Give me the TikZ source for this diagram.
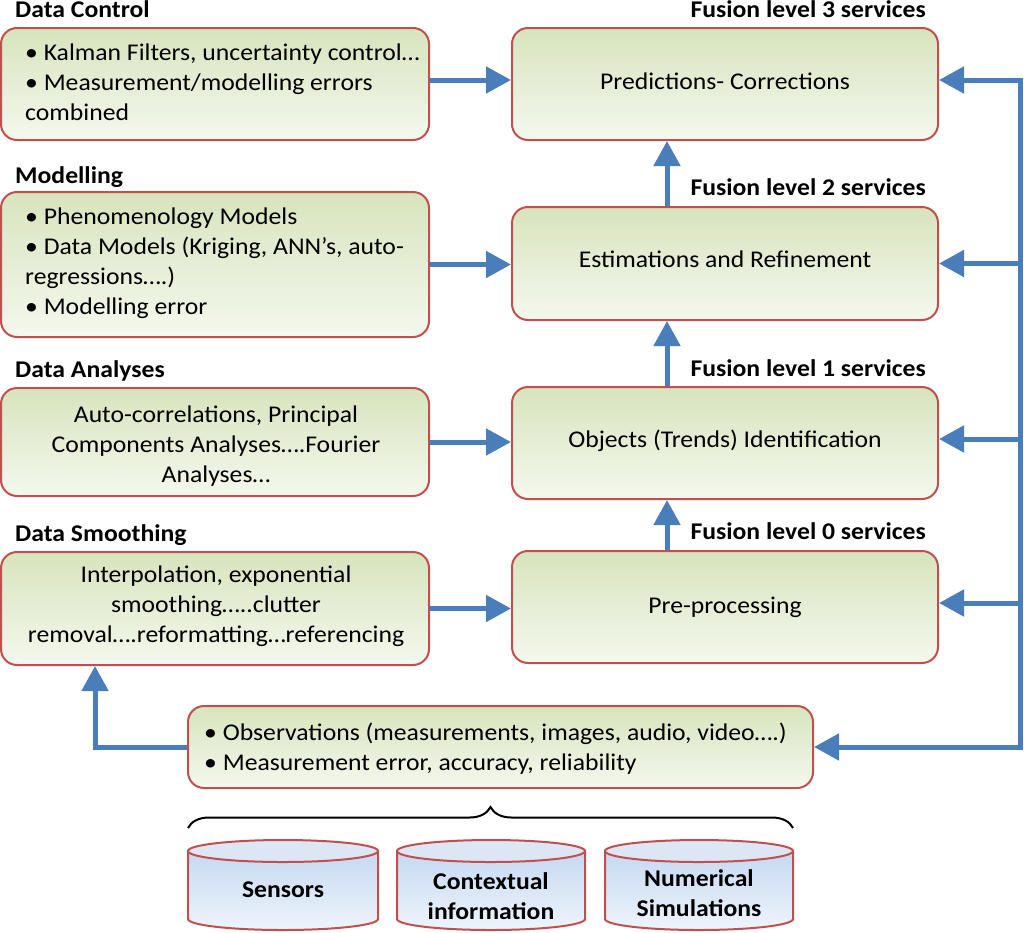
\documentclass[tikz,border=0pt]{standalone}
\usepackage{fontspec}
\setmainfont{Carlito}[FakeStretch=1.07]
\usetikzlibrary{arrows.meta,decorations.pathreplacing,calc}
\definecolor{boxtop}{HTML}{D7E4BD}
\definecolor{boxbot}{HTML}{F4F8EE}
\definecolor{boxred}{HTML}{C0504D}
\definecolor{arrblue}{HTML}{4A7EBB}
\definecolor{cyltop}{HTML}{C6D9F1}
\definecolor{cylbot}{HTML}{EEF4FB}
\definecolor{cyllid}{HTML}{DCE6F4}
\newcommand\dbcyl[2]{% center x, half width
  \fill[top color=cyltop, bottom color=cylbot] (#1-#2,851) -- (#1-#2,919) arc[start angle=180,end angle=360,x radius=#2 pt,y radius=11pt] -- (#1+#2,851) -- cycle;
  \draw[draw=boxred, line width=2pt] (#1-#2,851) -- (#1-#2,919) arc[start angle=180,end angle=360,x radius=#2 pt,y radius=11pt] -- (#1+#2,851);
  \draw[draw=boxred, line width=2pt, fill=cyllid] (#1,851) ellipse[x radius=#2 pt, y radius=11pt];
}
\begin{document}
\begin{tikzpicture}[x=1pt,y=-1pt,
  box/.style={draw=boxred, line width=2pt, rounded corners=16pt, top color=boxtop, bottom color=boxbot, minimum width=428pt, inner sep=0pt},
  rbox/.style={box, minimum width=426pt},
  body/.style={font=\fontsize{24}{30}\selectfont, inner sep=0pt},
  ttl/.style={font=\fontsize{24}{30}\selectfont\bfseries, inner sep=0pt},
  arr/.style={draw=arrblue, line width=5pt, -{Triangle[length=25pt,width=26pt]}}]
\useasboundingbox (0,0) rectangle (1024,932);

% left boxes
\node[box, minimum height=112pt] (DC) at (215,84) {};
\node[box, minimum height=145pt] (M) at (215,264.5) {};
\node[box, minimum height=108pt] (DA) at (215,442) {};
\node[box, minimum height=113pt] (DS) at (215,608.5) {};
% right boxes
\node[rbox, minimum height=112pt] (P) at (725,84) {};
\node[rbox, minimum height=113pt] (E) at (725,263.5) {};
\node[rbox, minimum height=112pt] (O) at (725,443) {};
\node[rbox, minimum height=112pt] (Pre) at (725,607) {};
% observations
\node[box, minimum width=625pt, minimum height=82pt] (Obs) at (500.5,747) {};

% titles
\node[ttl, anchor=base west] (tDC) at (15,17) {Data Control};
\node[ttl, anchor=base west] (tM) at (15,183) {Modelling};
\node[ttl, anchor=base west] (tDA) at (15,377) {Data Analyses};
\node[ttl, anchor=base west] (tDS) at (15,541) {Data Smoothing};
\node[ttl, anchor=base east] (f3) at (926,17) {Fusion level 3 services};
\node[ttl, anchor=base east] (f2) at (926,195) {Fusion level 2 services};
\node[ttl, anchor=base east] (f1) at (926,376) {Fusion level 1 services};
\node[ttl, anchor=base east] (f0) at (926,539) {Fusion level 0 services};

% box texts
\node[body, align=left, anchor=west] (DCt) at (25,82.5) {• Kalman Filters, uncertainty control…\\• Measurement/modelling errors\\combined};
\node[body, align=left, anchor=west] (Mt) at (25,263) {• Phenomenology Models\\• Data Models (Kriging, ANN’s, auto-\\regressions….)\\• Modelling error};
\node[body, align=center] (DAt) at (216,446) {Auto-correlations, Principal\\Components Analyses….Fourier\\Analyses…};
\node[body, align=center] (DSt) at (216,606) {Interpolation, exponential\\smoothing…..clutter\\removal….reformatting…referencing};
\node[body] (Pt) at (725,81) {Predictions- Corrections};
\node[body] (Et) at (725,259) {Estimations and Refinement};
\node[body] (Ot) at (725,441) {Objects (Trends) Identification};
\node[body] (Pret) at (725,607) {Pre-processing};
\node[body, align=left, anchor=west] (Obst) at (204,749) {• Observations (measurements, images, audio, video….)\\• Measurement error, accuracy, reliability};

% cylinders
\dbcyl{283}{95}
\dbcyl{491}{94}
\dbcyl{699}{94}
\node[ttl] (S) at (283,890) {Sensors};
\node[ttl, align=center] (C) at (491,896) {Contextual\\information};
\node[ttl, align=center] (N) at (699,893) {Numerical\\Simulations};

% brace
\coordinate (br1) at (188,828);
\coordinate (br2) at (793,828);
\draw[decorate, decoration={brace, amplitude=21pt}, line width=2pt] (br1) -- (br2);

% connectors
\coordinate (rtop) at (1020,80);
\coordinate (rbot) at (1020,747);
\coordinate (ux) at (667,0);
\coordinate (lx) at (95,0);
\draw[arr] ([yshift=4pt]DC.east) -- ([yshift=4pt]DC.east -| P.west);
\draw[arr] (M.east) -- (M.east -| E.west);
\draw[arr] (DA.east) -- (DA.east -| O.west);
\draw[arr] (DS.east) -- (DS.east -| Pre.west);
\draw[arr] (rbot) -- (rtop) -- (P.east |- rtop);
\draw[arr] (rtop) -- (rbot) -- (Obs.east |- rbot);
\draw[arr] (E.east -| rtop) -- (E.east);
\draw[arr] ([yshift=4pt]O.east -| rtop) -- ([yshift=4pt]O.east);
\draw[arr] ([yshift=4pt]Pre.east -| rtop) -- ([yshift=4pt]Pre.east);
\draw[arr] (E.north -| ux) -- (P.south -| ux);
\draw[arr] (O.north -| ux) -- (E.south -| ux);
\draw[arr] (Pre.north -| ux) -- (O.south -| ux);
\draw[arr] (Obs.west) -| (DS.south -| lx);
\end{tikzpicture}
\end{document}
